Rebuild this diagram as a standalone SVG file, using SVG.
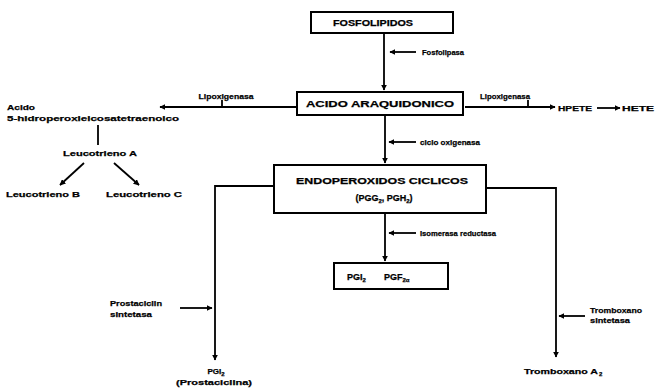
<svg xmlns="http://www.w3.org/2000/svg" width="660" height="392" viewBox="0 0 660 392">
<defs>
<marker id="ah" viewBox="0 0 10 10" refX="9" refY="5" markerWidth="6" markerHeight="6" markerUnits="userSpaceOnUse" orient="auto">
<path d="M0,0 L10,5 L0,10 z" fill="#000"/>
</marker>
<style>
.t{font-family:"Liberation Sans",Arial,sans-serif;font-weight:bold;fill:#000;stroke:#000;stroke-width:0.25}
.s{font-size:8px}
.m{font-size:9px}
.c{text-anchor:middle}
.sub{font-size:6px}
.box{fill:#fff;stroke:#000;stroke-width:2}
.ln{fill:none;stroke:#000;stroke-width:1.8}
.ar{fill:none;stroke:#000;stroke-width:1.8;marker-end:url(#ah)}
</style>
</defs>
<rect width="660" height="392" fill="#fff"/>

<g id="connectors">
<path class="ar" d="M384,33 V90"/>
<path class="ar" d="M416,52 H390"/>
<path class="ar" d="M297,107 H160"/>
<path class="ln" d="M222,100 V107"/>
<path class="ar" d="M465,107 H555"/>
<path class="ln" d="M528,100 V107"/>
<path class="ar" d="M597,108 H620"/>
<path class="ar" d="M385,116 V163"/>
<path class="ar" d="M416,142 H389"/>
<path class="ln" d="M98,125 V145"/>
<path class="ar" d="M84,163 L60,185"/>
<path class="ar" d="M114,163 L139,185"/>
<path class="ar" d="M385,213 V261"/>
<path class="ar" d="M416,233 H389"/>
<path class="ar" d="M274,186 H215 V360"/>
<path class="ar" d="M486,188 H556 V357"/>
<path class="ar" d="M180,308 H212"/>
<path class="ar" d="M585,316 H559"/>
</g>

<g id="fosfolipidos">
<rect class="box" x="311" y="12" width="142" height="21"/>
<text class="t m c" x="373" y="26" textLength="80" lengthAdjust="spacingAndGlyphs">FOSFOLIPIDOS</text>
</g>
<g id="fosfolipasa">
<text class="t s" x="422" y="55" textLength="42" lengthAdjust="spacingAndGlyphs">Fosfolipasa</text>
</g>
<g id="acido-araquidonico">
<rect class="box" x="297" y="92" width="166" height="23"/>
<text class="t m c" x="380" y="107" textLength="148" lengthAdjust="spacingAndGlyphs">ACIDO ARAQUIDONICO</text>
</g>
<g id="lipoxigenasa-izq">
<text class="t s c" x="226" y="99" textLength="55" lengthAdjust="spacingAndGlyphs">Lipoxigenasa</text>
</g>
<g id="lipoxigenasa-der">
<text class="t s c" x="505" y="99" textLength="50" lengthAdjust="spacingAndGlyphs">Lipoxigenasa</text>
</g>
<g id="hpete">
<text class="t s" x="558" y="111" textLength="34" lengthAdjust="spacingAndGlyphs">HPETE</text>
</g>
<g id="hete">
<text class="t s" x="622" y="111" textLength="32" lengthAdjust="spacingAndGlyphs">HETE</text>
</g>
<g id="acido-5-hpete">
<text class="t s" x="7" y="110" textLength="28" lengthAdjust="spacingAndGlyphs">Acido</text>
<text class="t s" x="7" y="121" textLength="172" lengthAdjust="spacingAndGlyphs">5-hidroperoxieicosatetraenoico</text>
</g>
<g id="leucotrieno-a">
<text class="t s c" x="100" y="156" textLength="74" lengthAdjust="spacingAndGlyphs">Leucotrieno A</text>
</g>
<g id="leucotrieno-b">
<text class="t s" x="6" y="197" textLength="74" lengthAdjust="spacingAndGlyphs">Leucotrieno B</text>
</g>
<g id="leucotrieno-c">
<text class="t s" x="106" y="197" textLength="76" lengthAdjust="spacingAndGlyphs">Leucotrieno C</text>
</g>
<g id="ciclo-oxigenasa">
<text class="t s" x="420" y="145" textLength="60" lengthAdjust="spacingAndGlyphs">ciclo oxigenasa</text>
</g>
<g id="endoperoxidos">
<rect class="box" x="274" y="165" width="212" height="48"/>
<text class="t m c" x="382" y="184" textLength="172" lengthAdjust="spacingAndGlyphs">ENDOPEROXIDOS CICLICOS</text>
<text class="t m c" x="384" y="201">(PGG<tspan class="sub" dy="2">2</tspan><tspan dy="-2">, PGH</tspan><tspan class="sub" dy="2">2</tspan><tspan dy="-2">)</tspan></text>
</g>
<g id="isomerasa-reductasa">
<text class="t s" x="420" y="236" textLength="76" lengthAdjust="spacingAndGlyphs">Isomerasa reductasa</text>
</g>
<g id="pgi2-pgf2a">
<rect class="box" x="334" y="263" width="114" height="26"/>
<text class="t m" x="347" y="280">PGI<tspan class="sub" dy="2">2</tspan></text>
<text class="t m" x="384" y="280">PGF<tspan class="sub" dy="2">2α</tspan></text>
</g>
<g id="prostaciclin-sintetasa">
<text class="t s" x="110" y="306" textLength="52" lengthAdjust="spacingAndGlyphs">Prostaciclin</text>
<text class="t s" x="110" y="317" textLength="42" lengthAdjust="spacingAndGlyphs">sintetasa</text>
</g>
<g id="tromboxano-sintetasa">
<text class="t s" x="590" y="313" textLength="52" lengthAdjust="spacingAndGlyphs">Tromboxano</text>
<text class="t s" x="590" y="323" textLength="40" lengthAdjust="spacingAndGlyphs">sintetasa</text>
</g>
<g id="pgi2">
<text class="t s c" x="216" y="374">PGI<tspan class="sub" dy="2">2</tspan></text>
<text class="t s c" x="214" y="385" textLength="76" lengthAdjust="spacingAndGlyphs">(Prostaciclina)</text>
</g>
<g id="tromboxano-a2">
<text class="t s" x="524" y="374" textLength="74" lengthAdjust="spacingAndGlyphs">Tromboxano A</text><text class="t sub" x="599" y="376">2</text>
</g>
</svg>
